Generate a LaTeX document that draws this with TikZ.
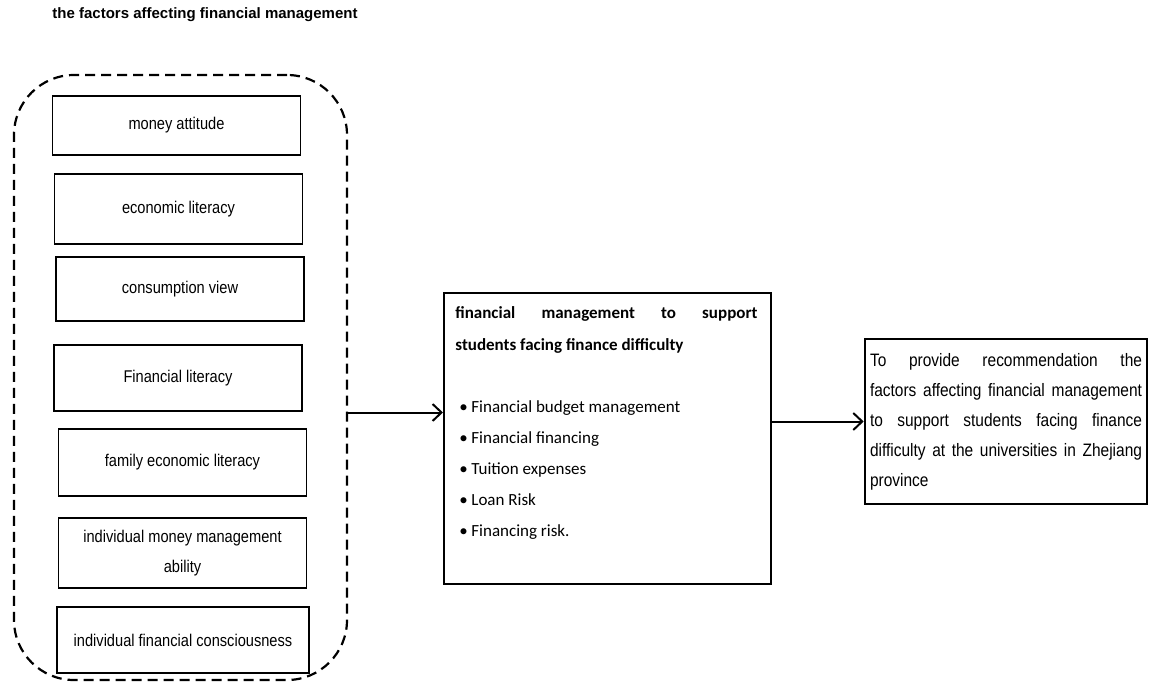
\documentclass[tikz,border=0pt]{standalone}
\usepackage{fontspec}
\setmainfont{Liberation Sans}
\newfontfamily\narrowfont[FakeStretch=0.86]{Liberation Sans}
\newfontfamily\califont{Carlito}
\usetikzlibrary{arrows.meta}
\hyphenpenalty=10000
\tikzset{
  factor/.style={draw, line width=0.9pt, minimum width=124pt, align=center, inner sep=2pt,
    font=\narrowfont\fontsize{8.5}{15}\selectfont},
  arr/.style={-{Straight Barb[length=4.5pt,width=8.5pt]}, line width=1pt},
}
\begin{document}
\begin{tikzpicture}[x=0.5pt,y=-0.5pt]
\useasboundingbox (0,0) rectangle (1150,684);
\node[font=\bfseries\fontsize{7.5}{9}\selectfont] (title) at (205,15) {the factors affecting financial management};
% dashed group of factors
\node[draw, dash pattern=on 5pt off 3pt, line width=1.1pt, rounded corners=30pt,
  minimum width=166.5pt, minimum height=302.5pt] (frame) at (180.5,377.5) {};
\node[factor, minimum height=29.5pt] (f1) at (176.5,125.5) {money attitude};
\node[factor, minimum height=35pt] (f2) at (178.5,209) {economic literacy};
\node[factor, minimum height=32pt] (f3) at (180,289) {consumption view};
\node[factor, minimum height=33pt] (f4) at (178,378) {Financial literacy};
\node[factor, minimum height=33.5pt] (f5) at (182.5,462.5) {family economic literacy};
\node[factor, minimum height=35pt] (f6) at (182.5,553) {individual money management\\ability};
\node[factor, minimum height=33pt, minimum width=126pt] (f7) at (183,640) {individual financial consciousness};
% middle box
\node[draw, line width=1pt, minimum width=163.5pt, minimum height=145.5pt] (mid) at (607.5,438.5) {};
\node[anchor=north west, inner sep=0pt, text width=151pt, align=justify,
  font=\califont\bfseries\fontsize{8.5}{16}\selectfont] (head) at ([xshift=6pt,yshift=-7pt]mid.north west)
  {financial management to support\linebreak students facing finance difficulty};
\node[anchor=north west, inner sep=0pt, align=left,
  font=\califont\fontsize{8.5}{15.5}\selectfont] (items) at ([xshift=8pt,yshift=-54pt]mid.north west)
  {\makebox[6pt][l]{\textbullet}Financial budget management\\
   \makebox[6pt][l]{\textbullet}Financial financing\\
   \makebox[6pt][l]{\textbullet}Tuition expenses\\
   \makebox[6pt][l]{\textbullet}Loan Risk\\
   \makebox[6pt][l]{\textbullet}Financing risk.};
% result box
\node[draw, line width=1.3pt, minimum width=141pt, minimum height=82.5pt, text width=136pt,
  align=justify, inner xsep=2.5pt, font=\narrowfont\fontsize{9}{15}\selectfont] (goal) at (1006,421.5)
  {To provide recommendation the\linebreak factors affecting financial management\linebreak
   to support students facing finance\linebreak difficulty at the universities in Zhejiang\linebreak province};
\coordinate (in1) at ([yshift=13pt]mid.west);
\draw[arr] (frame.east |- in1) -- (in1);
\draw[arr] (mid.east |- goal.west) -- (goal.west);
\end{tikzpicture}
\end{document}
